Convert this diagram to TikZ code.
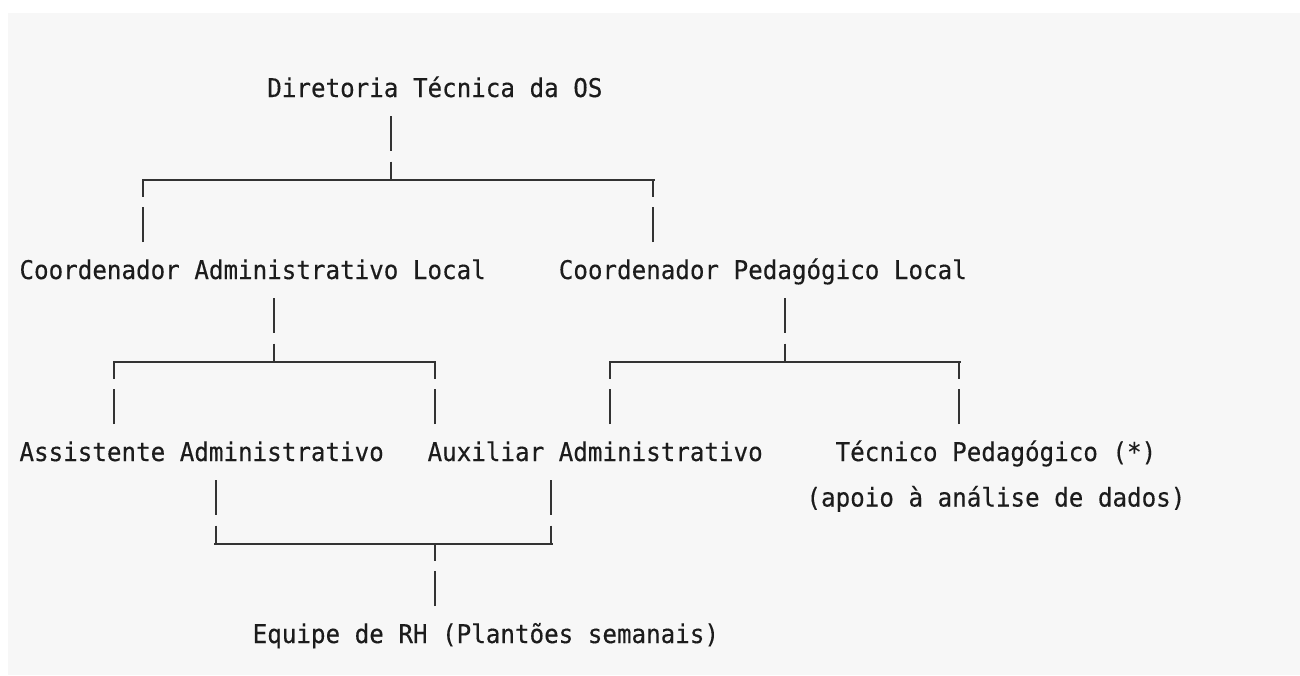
\documentclass[tikz,border=0pt]{standalone}
\usepackage{fontspec}
\usepackage{tikz}
\usetikzlibrary{calc}

\newfontfamily\monof[FakeStretch=0.94,FakeBold=0.3]{DejaVu Sans Mono}
\definecolor{bggray}{HTML}{F7F7F7}
\definecolor{inkgray}{HTML}{1C1C1C}
\definecolor{linegray}{HTML}{333333}

\tikzset{
  lbl/.style={font={\monof\fontsize{25.75}{30}\selectfont}, text=inkgray,
    inner sep=0pt, anchor=base west},
  stem/.style={draw=linegray, line width=2pt, dash pattern=on 35pt off 10.5pt},
  bar/.style={draw=linegray, line width=2.6pt, line cap=rect}
}

\begin{document}
\begin{tikzpicture}[x=1pt,y=-1pt]
    \useasboundingbox (0,0) rectangle (1300,675);
    % Page and panel
    \fill[white] (0,0) rectangle (1300,675);
    \fill[bggray] (8,13) rectangle (1300,675);
    % Labels
    \node[lbl] (dir) at (267.1,97) {Diretoria Técnica da OS};
    \node[lbl] (cadm) at (19.3,279) {Coordenador Administrativo Local};
    \node[lbl] (cped) at (558.6,279) {Coordenador Pedagógico Local};
    \node[lbl] (assist) at (19.3,461) {Assistente Administrativo};
    \node[lbl] (aux) at (427.4,461) {Auxiliar Administrativo};
    \node[lbl] (tec) at (835.4,461) {Técnico Pedagógico (*)};
    \node[lbl] (apoio) at (806.3,506.5) {(apoio à análise de dados)};
    \node[lbl] (equipe) at (252.5,643) {Equipe de RH (Plantões semanais)};
    % Junctions on the bars
    \coordinate (j0) at (390.9,180);
    \coordinate (l0) at (143.2,180);
    \coordinate (r0) at (653.3,180);
    \coordinate (j1) at (274.3,362);
    \coordinate (l1) at (114.0,362);
    \coordinate (r1) at (434.9,362);
    \coordinate (j2) at (784.7,362);
    \coordinate (l2) at (609.8,362);
    \coordinate (r2) at (959.3,362);
    \coordinate (j3) at (434.9,544);
    \coordinate (l3) at (215.7,544);
    \coordinate (r3) at (551.3,544);
    % Bars
    \draw[bar] (l0) -- (r0);
    \draw[bar] (l1) -- (r1);
    \draw[bar] (l2) -- (r2);
    \draw[bar] (l3) -- (r3);
    % Stems going down to a bar
    \foreach \n/\j in {dir/j0, cadm/j1, cped/j2, assist/l3, aux/r3} {
      \draw[stem] ($(\n.base -| \j)+(0,19)$) -- (\j);
    }
    % Stems coming up from a bar
    \foreach \n/\j in {cadm/l0, cped/r0, assist/l1, aux/r1, aux/l2, tec/r2, equipe/j3} {
      \draw[stem] ($(\n.base -| \j)+(0,-37)$) -- (\j);
    }
  \end{tikzpicture}
\end{document}
